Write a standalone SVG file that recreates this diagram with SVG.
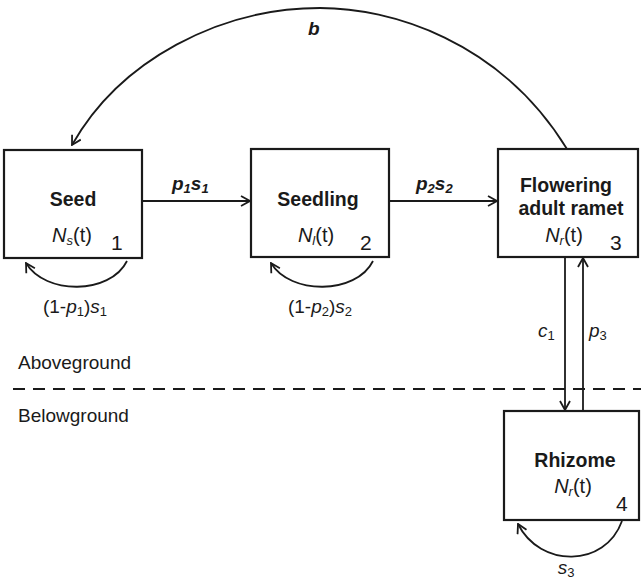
<svg xmlns="http://www.w3.org/2000/svg" width="641" height="580" viewBox="0 0 641 580">
<defs>
<marker id="ah" viewBox="0 0 12 12" refX="11" refY="6" markerWidth="12" markerHeight="12" markerUnits="userSpaceOnUse" orient="auto">
<path d="M2,1 L11,6 L2,11" fill="none" stroke="#1a1a1a" stroke-width="1.8"/>
</marker>
</defs>
<style>
.box{fill:#fff;stroke:#1a1a1a;stroke-width:2.2}
.ln{fill:none;stroke:#1a1a1a;stroke-width:1.8}
text{font-family:"Liberation Sans",Arial,sans-serif;fill:#1a1a1a}
.t{font-size:19.5px;font-weight:bold}
.n{font-size:20px}
.num{font-size:21px}
.lab{font-size:19px}
.bi{font-size:19px;font-weight:bold;font-style:italic}
.sub{font-size:13px}
</style>
<rect width="641" height="580" fill="#fff"/>
<g id="connectors">
<path class="ln" d="M567,149 C500,40 390,8 320,8 C220,8 120,60 72,145" marker-end="url(#ah)"/>
<line class="ln" x1="142" y1="201" x2="250" y2="201" marker-end="url(#ah)"/>
<line class="ln" x1="389" y1="201" x2="497" y2="201" marker-end="url(#ah)"/>
<path class="ln" d="M127,261 C110,295 45,295 26,263" marker-end="url(#ah)"/>
<path class="ln" d="M373,261 C356,295 290,295 271,263" marker-end="url(#ah)"/>
<path class="ln" d="M622,521 C605,568 540,568 518,524" marker-end="url(#ah)"/>
<line class="ln" x1="565" y1="258" x2="565" y2="410" marker-end="url(#ah)"/>
<line class="ln" x1="583" y1="410" x2="583" y2="258" marker-end="url(#ah)"/>
<line x1="13" y1="389" x2="641" y2="389" stroke="#1a1a1a" stroke-width="2" stroke-dasharray="12,8"/>
<text class="bi" x="308" y="35">b</text>
<text class="bi" x="172" y="190">p<tspan class="sub" dy="3">1</tspan><tspan dy="-3">s</tspan><tspan class="sub" dy="3">1</tspan></text>
<text class="bi" x="416" y="190">p<tspan class="sub" dy="3">2</tspan><tspan dy="-3">s</tspan><tspan class="sub" dy="3">2</tspan></text>
<text class="lab" x="75" y="313" text-anchor="middle">(1-<tspan font-style="italic">p</tspan><tspan class="sub" dy="3">1</tspan><tspan dy="-3">)</tspan><tspan font-style="italic">s</tspan><tspan class="sub" dy="3">1</tspan></text>
<text class="lab" x="320" y="313" text-anchor="middle">(1-<tspan font-style="italic">p</tspan><tspan class="sub" dy="3">2</tspan><tspan dy="-3">)</tspan><tspan font-style="italic">s</tspan><tspan class="sub" dy="3">2</tspan></text>
<text class="lab" x="566" y="574" text-anchor="middle" font-style="italic">s<tspan class="sub" dy="3" font-style="normal">3</tspan></text>
<text class="lab" x="538" y="337" font-style="italic">c<tspan class="sub" dy="3" font-style="normal">1</tspan></text>
<text class="lab" x="589" y="337" font-style="italic">p<tspan class="sub" dy="3" font-style="normal">3</tspan></text>
<text class="lab" x="18" y="369" font-size="21">Aboveground</text>
<text class="lab" x="18" y="422" font-size="21">Belowground</text>
</g>
<g id="seed">
<rect class="box" x="4" y="150" width="138" height="108"/>
<text class="t" x="73" y="206" text-anchor="middle">Seed</text>
<text class="n" x="72" y="242" text-anchor="middle"><tspan font-style="italic">N</tspan><tspan font-style="italic" class="sub" dy="3">s</tspan><tspan dy="-3">(t)</tspan></text>
<text class="num" x="111" y="250">1</text>
</g>
<g id="seedling">
<rect class="box" x="251" y="149" width="138" height="108"/>
<text class="t" x="318" y="206" text-anchor="middle">Seedling</text>
<text class="n" x="316" y="242" text-anchor="middle"><tspan font-style="italic">N</tspan><tspan font-style="italic" class="sub" dy="3">l</tspan><tspan dy="-3">(t)</tspan></text>
<text class="num" x="360" y="250">2</text>
</g>
<g id="flowering">
<rect class="box" x="498" y="149" width="140" height="108"/>
<text class="t" x="566" y="192" text-anchor="middle">Flowering</text>
<text class="t" x="571" y="215" text-anchor="middle">adult ramet</text>
<text class="n" x="564" y="242" text-anchor="middle"><tspan font-style="italic">N</tspan><tspan font-style="italic" class="sub" dy="3">r</tspan><tspan dy="-3">(t)</tspan></text>
<text class="num" x="610" y="250">3</text>
</g>
<g id="rhizome">
<rect class="box" x="504" y="411" width="135" height="109"/>
<text class="t" x="575" y="467" text-anchor="middle" font-size="21">Rhizome</text>
<text class="n" x="573" y="493" text-anchor="middle"><tspan font-style="italic">N</tspan><tspan font-style="italic" class="sub" dy="3">r</tspan><tspan dy="-3">(t)</tspan></text>
<text class="num" x="616" y="511">4</text>
</g>
</svg>
